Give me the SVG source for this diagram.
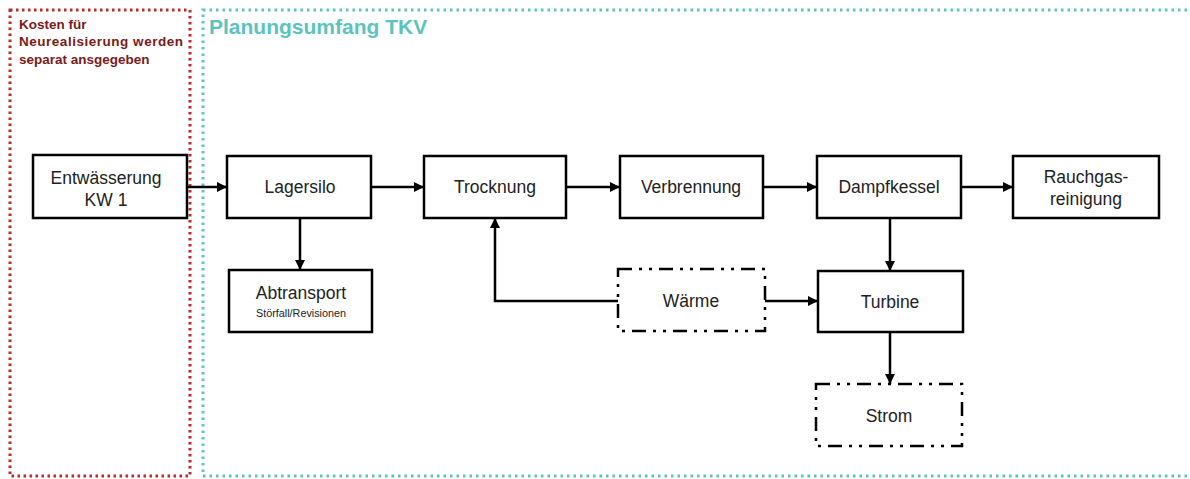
<svg xmlns="http://www.w3.org/2000/svg" width="1190" height="479" viewBox="0 0 1190 479">
<style>
  .box{fill:#fff;stroke:#000;stroke-width:2.5}
  .dd{fill:#fff;stroke:#000;stroke-width:2.5;stroke-dasharray:14 7 3 7 3 7}
  .t{font-family:"Liberation Sans",Arial,sans-serif;font-size:17.5px;fill:#222;text-anchor:middle}
  .s{font-family:"Liberation Sans",Arial,sans-serif;font-size:10px;fill:#222;text-anchor:middle}
  .c{stroke:#000;stroke-width:2.5;fill:none;marker-end:url(#ah)}
</style>
<defs>
  <marker id="ah" viewBox="0 0 10 10" refX="10" refY="5" markerWidth="4" markerHeight="4" orient="auto" markerUnits="strokeWidth">
    <path d="M0,0 L10,5 L0,10 z" fill="#000"/>
  </marker>
</defs>
<rect width="1190" height="479" fill="#fff"/>
<g id="zone-kosten">
  <rect x="10" y="10" width="180" height="466" fill="none" stroke="#c0282c" stroke-width="3" stroke-dasharray="2.5 3.5"/>
  <text font-family="Liberation Sans,Arial,sans-serif" font-size="13.5" font-weight="bold" fill="#7a1a1a">
    <tspan x="19" y="29">Kosten für</tspan>
    <tspan x="19" y="46" textLength="164" lengthAdjust="spacing">Neurealisierung  werden</tspan>
    <tspan x="19" y="64">separat ansgegeben</tspan>
  </text>
</g>
<g id="zone-tkv">
  <rect x="203" y="10" width="1000" height="466" fill="none" stroke="#5cc4bd" stroke-width="3" stroke-dasharray="2.5 4"/>
  <text x="209" y="34" font-family="Liberation Sans,Arial,sans-serif" font-size="21" font-weight="bold" fill="#5cc4bd">Planungsumfang TKV</text>
</g>
<g id="connectors">
  <line class="c" x1="187" y1="187" x2="227" y2="187"/>
  <line class="c" x1="371" y1="187" x2="424" y2="187"/>
  <line class="c" x1="566" y1="187" x2="620" y2="187"/>
  <line class="c" x1="763" y1="187" x2="817" y2="187"/>
  <line class="c" x1="961" y1="187" x2="1013" y2="187"/>
  <line class="c" x1="300" y1="218" x2="300" y2="270"/>
  <line class="c" x1="890" y1="218" x2="890" y2="271"/>
  <line class="c" x1="890" y1="332" x2="890" y2="384"/>
  <line class="c" x1="765" y1="301" x2="818" y2="301"/>
  <polyline class="c" points="618,301 495,301 495,218"/>
</g>
<g id="entwaesserung">
  <rect class="box" x="33" y="155" width="154" height="63"/>
  <text class="t"><tspan x="106" y="184">Entwässerung</tspan><tspan x="106" y="206">KW 1</tspan></text>
</g>
<g id="lagersilo">
  <rect class="box" x="227" y="156" width="144" height="62"/>
  <text class="t" x="300" y="193">Lagersilo</text>
</g>
<g id="abtransport">
  <rect class="box" x="229" y="270" width="143" height="62"/>
  <text class="t" x="301" y="299">Abtransport</text>
  <text class="s" x="301" y="317" textLength="90" lengthAdjust="spacingAndGlyphs">Störfall/Revisionen</text>
</g>
<g id="trocknung">
  <rect class="box" x="424" y="156" width="142" height="62"/>
  <text class="t" x="495" y="193">Trocknung</text>
</g>
<g id="verbrennung">
  <rect class="box" x="620" y="156" width="143" height="62"/>
  <text class="t" x="691" y="193">Verbrennung</text>
</g>
<g id="dampfkessel">
  <rect class="box" x="817" y="156" width="144" height="62"/>
  <text class="t" x="889" y="193">Dampfkessel</text>
</g>
<g id="rauchgasreinigung">
  <rect class="box" x="1013" y="156" width="146" height="62"/>
  <text class="t"><tspan x="1086" y="183">Rauchgas-</tspan><tspan x="1086" y="205">reinigung</tspan></text>
</g>
<g id="waerme">
  <rect class="dd" x="618" y="269" width="147" height="62"/>
  <text class="t" x="691" y="307">Wärme</text>
</g>
<g id="turbine">
  <rect class="box" x="818" y="271" width="145" height="61"/>
  <text class="t" x="890" y="308">Turbine</text>
</g>
<g id="strom">
  <rect class="dd" x="816" y="384" width="146" height="62"/>
  <text class="t" x="889" y="422">Strom</text>
</g>
</svg>
